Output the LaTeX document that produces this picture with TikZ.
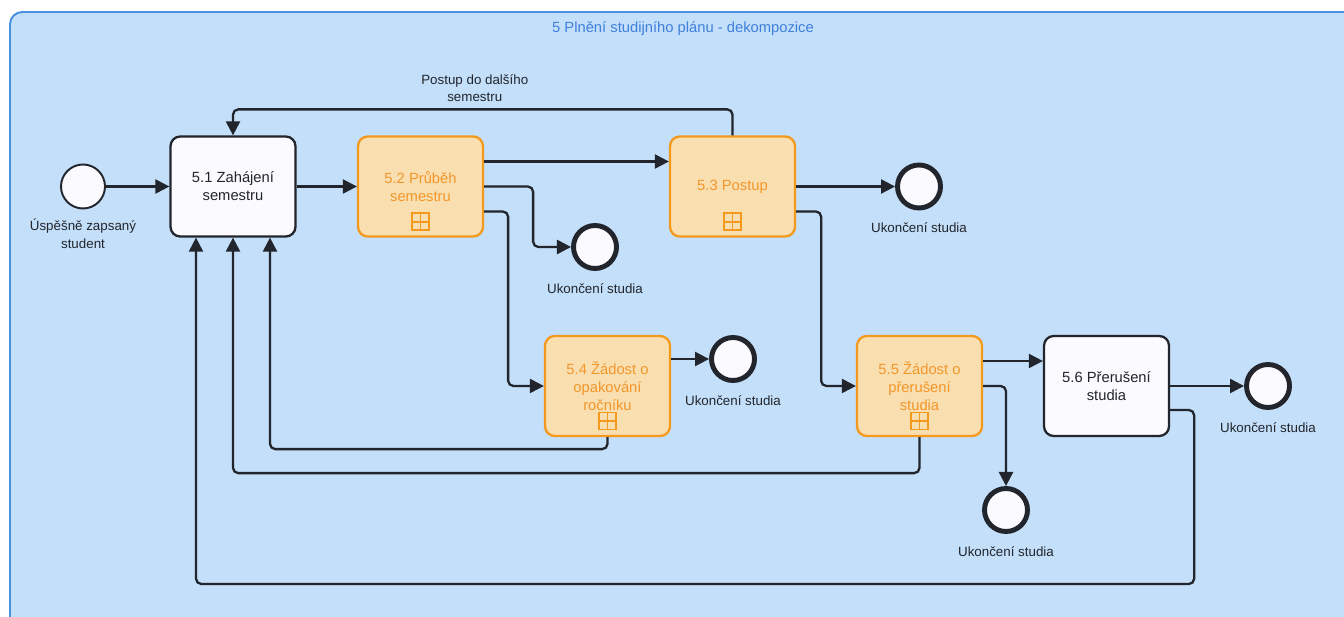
\documentclass[tikz,border=0pt]{standalone}
\usepackage{fontspec}
\setmainfont{Liberation Sans}
\usepackage{xcolor}
\usepackage{tikz}
\usetikzlibrary{arrows.meta, positioning, calc}
\definecolor{PoolBlue}{HTML}{C3DFFA}
\definecolor{PoolLine}{HTML}{4A90E2}
\definecolor{TitleBlue}{HTML}{3F80DB}
\definecolor{FlowDark}{HTML}{22252B}
\definecolor{SubOrange}{HTML}{F39A1E}
\definecolor{SubFill}{HTML}{F9DFB0}
\definecolor{SubText}{HTML}{F2962A}
\tikzset{
    taskbox/.style={rectangle, rounded corners=5.5pt, minimum width=2.5cm, minimum height=2cm,
        align=center, draw=FlowDark, line width=1.3pt, fill=white!98!blue, text=FlowDark,
        font=\fontsize{8.4}{10.4}\selectfont},
    subbox/.style={taskbox, draw=SubOrange, fill=SubFill, text=SubText},
    startev/.style={circle, minimum size=0.88cm, draw=FlowDark, line width=1.1pt, fill=white!98!blue},
    endev/.style={circle, minimum size=0.86cm, draw=FlowDark, line width=2.8pt, fill=white!98!blue},
    evlabel/.style={font=\fontsize{7.6}{10.2}\selectfont, text=FlowDark, align=center, inner sep=1pt},
    flow/.style={-{Triangle[length=8pt, width=8pt]}, line width=1.3pt, draw=FlowDark, rounded corners=3pt},
    expand/.style={rectangle, draw=SubOrange, line width=0.9pt, minimum size=0.34cm, inner sep=0pt,
        path picture={\draw[SubOrange, line width=1pt]
            (path picture bounding box.north) -- (path picture bounding box.south)
            (path picture bounding box.west) -- (path picture bounding box.east);}},
}

\begin{document}
\begin{tikzpicture}[x=0.02cm, y=-0.02cm]
    \useasboundingbox (0,0) rectangle (1344,617);
    \clip (0,0) rectangle (1344,617);
    \draw[PoolLine, line width=1.1pt, fill=PoolBlue, rounded corners=7pt] (10,12) rectangle (1400,660);
    \node[text=TitleBlue, font=\fontsize{8.4}{10}\selectfont] (title) at (683,29) {5 Plnění studijního plánu - dekompozice};

    \node[startev] (start) at (83,186.5) {};
    \node[evlabel, below=4pt of start] (startlbl) {Úspěšně zapsaný\\student};

    \node[taskbox] (zahajeni) at (233,186.5) {5.1 Zahájení\\semestru};
    \node[subbox] (prubeh) at (420.5,186.5) {5.2 Průběh\\semestru};
    \node[subbox] (postup) at (732.5,186.5) {5.3 Postup};
    \node[subbox] (opakovani) at (607.5,386) {5.4 Žádost o\\opakování\\ročníku};
    \node[subbox] (zadprer) at (919.5,386) {5.5 Žádost o\\přerušení\\studia};
    \node[taskbox] (preruseni) at (1106.5,386) {5.6 Přerušení\\studia};

    \node[expand] (mprubeh) at ($(prubeh.south)+(0,-16)$) {};
    \node[expand] (mpostup) at ($(postup.south)+(0,-16)$) {};
    \node[expand] (mopakovani) at ($(opakovani.south)+(0,-16)$) {};
    \node[expand] (mzadprer) at ($(zadprer.south)+(0,-16)$) {};

    \node[endev] (endprubeh) at (595,247) {};
    \node[evlabel, below=6pt of endprubeh] (endprubehlbl) {Ukončení studia};
    \node[endev] (endpostup) at (919,186.5) {};
    \node[evlabel, below=6pt of endpostup] (endpostuplbl) {Ukončení studia};
    \node[endev] (endopak) at (733,359) {};
    \node[evlabel, below=6pt of endopak] (endopaklbl) {Ukončení studia};
    \node[endev] (endzad) at (1006,510) {};
    \node[evlabel, below=6pt of endzad] (endzadlbl) {Ukončení studia};
    \node[endev] (endprer) at (1268,386) {};
    \node[evlabel, below=6pt of endprer] (endprerlbl) {Ukončení studia};

    \draw[flow] (start) -- (zahajeni);
    \draw[flow] (zahajeni) -- (prubeh);
    \draw[flow] ($(prubeh.east)+(0,-25)$) -- ($(postup.west)+(0,-25)$);
    \draw[flow] (prubeh.east) -- ++(49,0) |- (endprubeh.west);
    \draw[flow] ($(prubeh.east)+(0,25)$) -- ++(24,0) |- (opakovani.west);
    \draw[flow] (postup.north) -- ++(0,-26) -| (zahajeni.north)
        node[pos=0.258, above=2.5pt, evlabel] (postuplbl) {Postup do dalšího\\semestru};
    \draw[flow] (postup.east) -- (endpostup.west);
    \draw[flow] ($(postup.east)+(0,25)$) -- ++(25,0) |- (zadprer.west);
    \draw[flow] (endopak.west -| opakovani.east) -- (endopak.west);
    \draw[flow] (opakovani.south) -- ++(0,12) -| ($(zahajeni.south)+(37,0)$);
    \draw[flow] (zadprer.south) -- ++(0,36) -| (zahajeni.south);
    \draw[flow] ($(zadprer.east)+(0,-25)$) -- ($(preruseni.west)+(0,-25)$);
    \draw[flow] (zadprer.east) -| (endzad.north);
    \draw[flow] (preruseni.east) -- (endprer.west);
    \draw[flow] ($(preruseni.east)+(0,24)$) -- ++(24,0) -- ++(0,174) -| ($(zahajeni.south)+(-37,0)$);
\end{tikzpicture}
\end{document}
